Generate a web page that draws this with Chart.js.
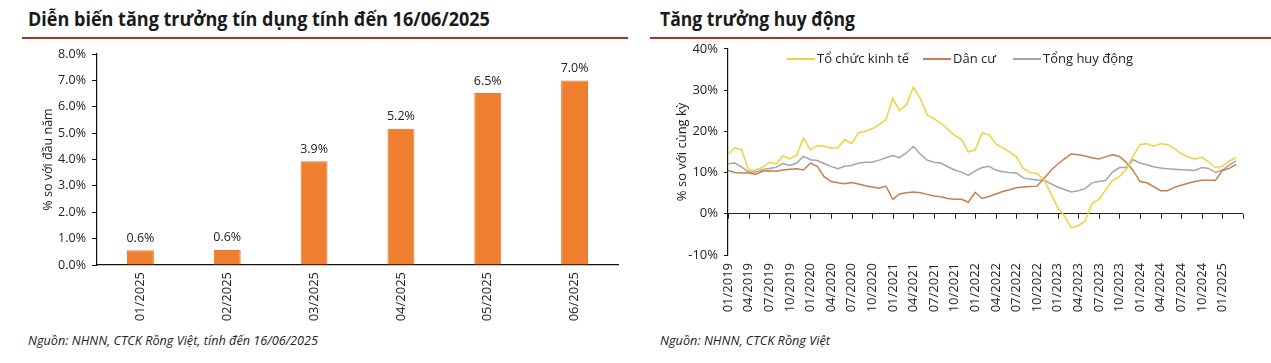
<!DOCTYPE html>
<html>
<head>
<meta charset="utf-8">
<script src="https://cdn.jsdelivr.net/npm/chart.js@4.4.1/dist/chart.umd.min.js"></script>
<style>
  body { margin: 0; width: 1271px; height: 363px; background: #fff; position: relative; overflow: hidden;
         font-family: 'Open Sans', sans-serif; color: #1a1a1a; }
  .title { position: absolute; top: 8px; font-weight: 700; font-size: 19px; line-height: 22px;
           white-space: nowrap; transform-origin: 0 0; }
  .rule { position: absolute; top: 37px; height: 1.5px; background: #a8322c; }
  .src { position: absolute; top: 333px; font-style: italic; font-size: 12.5px; line-height: 16px;
         white-space: nowrap; transform-origin: 0 0; color: #222; }
  .box { position: absolute; top: 40px; height: 285px; }
  .leg { position: absolute; top: 49px; font-size: 13px; line-height: 18px; white-space: nowrap; color: #222; }
  .leg .sw { position: absolute; left: 0; top: 9px; width: 28px; height: 2px; }
  .leg .tx { position: absolute; left: 30px; top: 0; }
</style>
</head>
<body>
<div class="title" style="left:28px" data-w="462">Diễn biến tăng trưởng tín dụng tính đến 16/06/2025</div>
<div class="title" style="left:660px" data-w="195">Tăng trưởng huy động</div>
<div class="rule" style="left:22px;width:606px"></div>
<div class="rule" style="left:650px;width:621px"></div>

<div class="box" style="left:0;width:635px"><canvas id="credit"></canvas></div>
<div class="box" style="left:640px;width:631px;top:35px;height:290px"><canvas id="deposit"></canvas></div>

<div class="leg" style="left:787px"><span class="sw" style="background:#efd23a"></span><span class="tx">Tổ chức kinh tế</span></div>
<div class="leg" style="left:923px"><span class="sw" style="background:#c97c4e"></span><span class="tx">Dân cư</span></div>
<div class="leg" style="left:1013px"><span class="sw" style="background:#a5a5a5"></span><span class="tx">Tổng huy động</span></div>

<div class="src" style="left:28px" data-w="290">Nguồn: NHNN, CTCK Rồng Việt, tính đến 16/06/2025</div>
<div class="src" style="left:660px" data-w="170">Nguồn: NHNN, CTCK Rồng Việt</div>

<script>
// --- left chart: credit growth YTD
const creditMonths = ['01/2025', '02/2025', '03/2025', '04/2025', '05/2025', '06/2025'];
const creditGrowth = [0.56, 0.57, 3.93, 5.17, 6.52, 7.0];

// --- right chart: deposit growth yoy, monthly from 01/2019
const quarterTicks = ['01/2019', '04/2019', '07/2019', '10/2019', '01/2020', '04/2020', '07/2020', '10/2020',
  '01/2021', '04/2021', '07/2021', '10/2021', '01/2022', '04/2022', '07/2022', '10/2022',
  '01/2023', '04/2023', '07/2023', '10/2023', '01/2024', '04/2024', '07/2024', '10/2024', '01/2025'];

const tcktGrowth = [
  14.5, 16.0, 15.5, 10.6, 10.6, 11.2, 12.5, 12.1, 14.0, 13.3, 14.2, 18.4,
  15.5, 16.5, 16.4, 15.9, 16.0, 18.0, 17.0, 19.6, 20.0, 20.6, 21.6, 22.8,
  28.0, 25.0, 26.5, 30.7, 28.0, 24.0, 23.0, 22.0, 20.5, 19.0, 18.0, 15.0,
  15.5, 19.6, 19.2, 17.0, 16.0, 15.0, 13.8, 11.0, 10.0, 9.8, 8.3, 5.0,
  1.5, -0.5, -3.4, -2.9, -1.8, 2.4, 3.5, 5.8, 8.1, 9.0, 10.8, 14.0,
  16.8, 17.0, 16.4, 17.0, 16.8, 15.8, 14.6, 13.8, 13.2, 13.7, 12.6, 11.2,
  11.5, 12.8, 13.6];

const danCuGrowth = [
  10.5, 10.0, 9.9, 9.9, 9.6, 10.3, 10.4, 10.3, 10.6, 10.8, 10.9, 10.6,
  12.3, 11.5, 9.0, 7.8, 7.5, 7.3, 7.6, 7.2, 6.8, 6.5, 6.2, 6.7,
  3.5, 4.8, 5.1, 5.3, 5.1, 4.7, 4.3, 4.1, 3.7, 3.5, 3.5, 2.8,
  5.2, 3.7, 4.2, 4.8, 5.4, 5.8, 6.3, 6.5, 6.6, 6.7, 8.5, 10.5,
  12.0, 13.3, 14.5, 14.3, 14.0, 13.6, 13.3, 13.8, 14.3, 13.9, 12.5, 10.5,
  7.8, 7.5, 6.6, 5.6, 5.6, 6.4, 6.9, 7.4, 7.8, 8.1, 8.1, 8.1,
  10.5, 11.0, 12.0];

const tongHuyDong = [
  12.1, 12.3, 11.3, 10.1, 10.1, 10.7, 11.0, 11.3, 12.2, 11.7, 12.3, 13.9,
  13.1, 12.9, 12.2, 11.5, 10.9, 11.5, 11.7, 12.3, 12.5, 12.5, 13.0, 13.6,
  14.1, 13.6, 14.8, 16.3, 14.5, 13.0, 12.5, 12.3, 11.4, 10.6, 10.1, 9.3,
  10.4, 11.2, 11.5, 10.6, 10.2, 10.0, 9.9, 8.7, 8.4, 8.2, 8.1, 7.3,
  6.5, 5.9, 5.3, 5.6, 6.1, 7.5, 7.8, 8.1, 10.1, 11.2, 11.2, 13.1,
  12.3, 11.9, 11.4, 11.1, 10.9, 10.8, 10.7, 10.6, 10.5, 11.2, 11.0, 10.0,
  10.6, 11.8, 12.8];

Chart.defaults.font.family = "'Open Sans', sans-serif";
Chart.defaults.color = '#222';

// fit header/source text widths to the reference (narrow Myriad-like face)
document.querySelectorAll('[data-w]').forEach(el => {
  el.style.transform = `scaleX(${+el.dataset.w / el.scrollWidth})`;
});

const barLabels = {
  id: 'barLabels',
  afterDatasetsDraw(chart) {
    const { ctx } = chart;
    ctx.save();
    ctx.font = "12.5px 'Open Sans'";
    ctx.fillStyle = '#222';
    ctx.textAlign = 'center';
    ctx.textBaseline = 'alphabetic';
    chart.getDatasetMeta(0).data.forEach((bar, i) => {
      ctx.fillText(creditGrowth[i].toFixed(1) + '%', bar.x, bar.y - 8.5);
    });
    ctx.restore();
  },
};

// small tick marks hanging under the 0% line
const zeroTicks = {
  id: 'zeroTicks',
  afterDraw(chart) {
    const { ctx, scales: { x, y } } = chart;
    const y0 = y.getPixelForValue(0);
    ctx.save();
    ctx.strokeStyle = '#222';
    ctx.lineWidth = 1;
    x.ticks.forEach(t => {
      const px = Math.round(x.getPixelForValue(t.value)) + 0.5;
      ctx.beginPath();
      ctx.moveTo(px, y0);
      ctx.lineTo(px, y0 + 5);
      ctx.stroke();
    });
    ctx.restore();
  },
};

new Chart(document.getElementById('credit'), {
  type: 'bar',
  data: {
    labels: creditMonths,
    datasets: [{
      data: creditGrowth,
      backgroundColor: '#ef7f2f',
      borderColor: '#e27a35',
      borderWidth: 1,
      categoryPercentage: 1,
      barPercentage: 0.31,
    }],
  },
  options: {
    responsive: true,
    maintainAspectRatio: false,
    animation: false,
    layout: { padding: { top: 14, right: 17, left: 0, bottom: 0 } },
    plugins: { legend: { display: false }, tooltip: { enabled: false } },
    scales: {
      x: {
        afterFit: s => { s.height = 60; },
        grid: { display: false, drawTicks: false },
        border: { display: true, color: '#111', width: 1.2 },
        ticks: { font: { size: 13 }, maxRotation: 90, minRotation: 90, padding: 7, color: '#222' },
      },
      y: {
        min: 0, max: 8,
        afterFit: s => { s.width = 97; },
        grid: { drawOnChartArea: false, drawTicks: true, tickLength: 5, color: '#111' },
        border: { display: true, color: '#111', width: 1.2 },
        ticks: { stepSize: 1, padding: 6, font: { size: 12.5 }, callback: v => v.toFixed(1) + '%' },
        title: { display: true, text: '% so với đầu năm', font: { size: 12.5 }, padding: { top: 41, bottom: 0 } },
      },
    },
  },
  plugins: [barLabels],
});

const toPoints = arr => arr.map((v, i) => ({ x: i, y: v }));

new Chart(document.getElementById('deposit'), {
  type: 'line',
  data: {
    datasets: [
      { label: 'Tổ chức kinh tế', data: toPoints(tcktGrowth), borderColor: '#efd23a' },
      { label: 'Dân cư', data: toPoints(danCuGrowth), borderColor: '#c97c4e' },
      { label: 'Tổng huy động', data: toPoints(tongHuyDong), borderColor: '#a5a5a5' },
    ],
  },
  options: {
    responsive: true,
    maintainAspectRatio: false,
    animation: false,
    layout: { padding: { top: 3, right: 28, left: 0, bottom: 0 } },
    elements: { point: { radius: 0 }, line: { borderWidth: 1.5, tension: 0 } },
    plugins: { legend: { display: false }, tooltip: { enabled: false } },
    scales: {
      x: {
        type: 'linear',
        min: 0, max: 75,
        afterFit: s => { s.height = 70; },
        grid: { display: false, drawTicks: false },
        border: { display: false },
        ticks: {
          stepSize: 3, autoSkip: false, maxRotation: 90, minRotation: 90, padding: 8,
          font: { size: 13 }, callback: v => quarterTicks[v / 3] || '',
        },
      },
      y: {
        min: -10, max: 40,
        afterFit: s => { s.width = 88; },
        grid: {
          drawTicks: true, tickLength: 4, tickColor: '#111',
          color: c => (c.tick && c.tick.value === 0 ? '#222' : 'rgba(0,0,0,0)'),
        },
        border: { display: true, color: '#111', width: 1.2 },
        ticks: { stepSize: 10, padding: 6, font: { size: 13 }, callback: v => v + '%' },
        title: { display: true, text: '% so với cùng kỳ', font: { size: 13 }, padding: { top: 34, bottom: 0 } },
      },
    },
  },
  plugins: [zeroTicks],
});
</script>
</body>
</html>
